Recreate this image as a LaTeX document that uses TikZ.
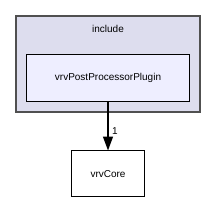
\documentclass[tikz,border=0pt]{standalone}
\usepackage{fontspec}
\setmainfont{Liberation Sans}
\usetikzlibrary{arrows.meta}
\definecolor{clusterfill}{HTML}{DDDDEE}
\definecolor{clusterline}{HTML}{505050}
\definecolor{innerfill}{HTML}{EEEEFF}
\begin{document}
\begin{tikzpicture}[x=1pt,y=-1pt,
  lbl/.style={font=\fontsize{10}{12}\selectfont, inner sep=0pt},
  dirbox/.style={draw=black, line width=0.9pt}]
\useasboundingbox (0,0) rectangle (216,204);
\draw[fill=clusterfill, draw=clusterline, line width=1.8pt] (15.8,15.8) rectangle (200.2,112.2);
\node[lbl] (inc) at (108,29) {include};
\draw[dirbox, fill=innerfill] (26.5,54.5) rectangle (189.5,101.5);
\node[lbl] (pp) at (108,78) {vrvPostProcessorPlugin};
\draw[dirbox, fill=white] (71.5,150.5) rectangle (144.5,196.5);
\node[lbl] (core) at (108,174) {vrvCore};
\coordinate (a1) at (108,101.5);
\coordinate (a2) at (108,150.5);
\draw[line width=1.4pt, -{Triangle[length=14pt,width=10pt]}] (a1) -- (a2);
\node[lbl, anchor=west] (one) at (112,131) {1};
\end{tikzpicture}
\end{document}
